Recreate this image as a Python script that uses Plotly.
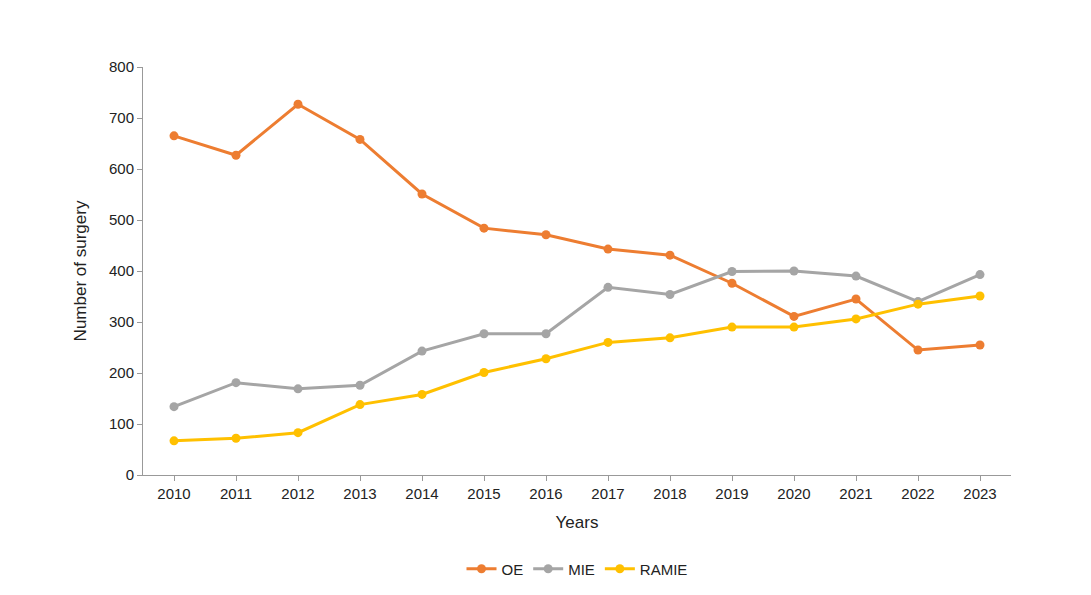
import plotly.graph_objects as go

years = [str(y) for y in range(2010, 2024)]
oe = [665, 627, 727, 658, 551, 484, 471, 443, 431, 376, 311, 345, 245, 255]
mie = [134, 181, 169, 176, 243, 277, 277, 368, 354, 399, 400, 390, 340, 393]
ramie = [67, 72, 83, 138, 158, 201, 228, 260, 269, 290, 290, 306, 335, 351]

# label offsets (px) per point, negative = below
oe_shift = [22] * 9 + [-22, -34, -42, -24, -24]
mie_shift = [22] * 14
ramie_shift = [-22] * 9 + [-28, -58, -50, -24, -24]

fig = go.Figure()
for name, vals, color, shifts in [
    ("OE", oe, "#ED7D31", oe_shift),
    ("MIE", mie, "#A5A5A5", mie_shift),
    ("RAMIE", ramie, "#FFC000", ramie_shift),
]:
    fig.add_trace(go.Scatter(
        x=years, y=vals, name=name, mode="lines+markers",
        line=dict(color=color, width=3), marker=dict(size=9, color=color),
    ))
    for x, v, s in zip(years, vals, shifts):
        fig.add_annotation(x=x, y=v, text=str(v), showarrow=False, yshift=s,
                           font=dict(size=15, color="#222"))

fig.update_layout(
    width=1091, height=595, plot_bgcolor="white", paper_bgcolor="white",
    margin=dict(l=135, r=88, t=59, b=128),
    font=dict(family="Liberation Sans, Arial", size=15, color="#222"),
    legend=dict(orientation="h", x=0.5, xanchor="center", y=-0.19, yanchor="top",
                font=dict(size=15)),
    xaxis=dict(title=dict(text="Years", font=dict(size=17)), type="category",
               range=[-0.5, 13.5], showline=True, linecolor="#999", ticks="outside",
               tickcolor="#999", showgrid=False),
    yaxis=dict(title=dict(text="Number of surgery", font=dict(size=17), standoff=18),
               range=[0, 800], dtick=100, showline=True, linecolor="#999",
               ticks="outside", tickcolor="#999", showgrid=False, zeroline=False),
)
fig.write_html("out.html")
